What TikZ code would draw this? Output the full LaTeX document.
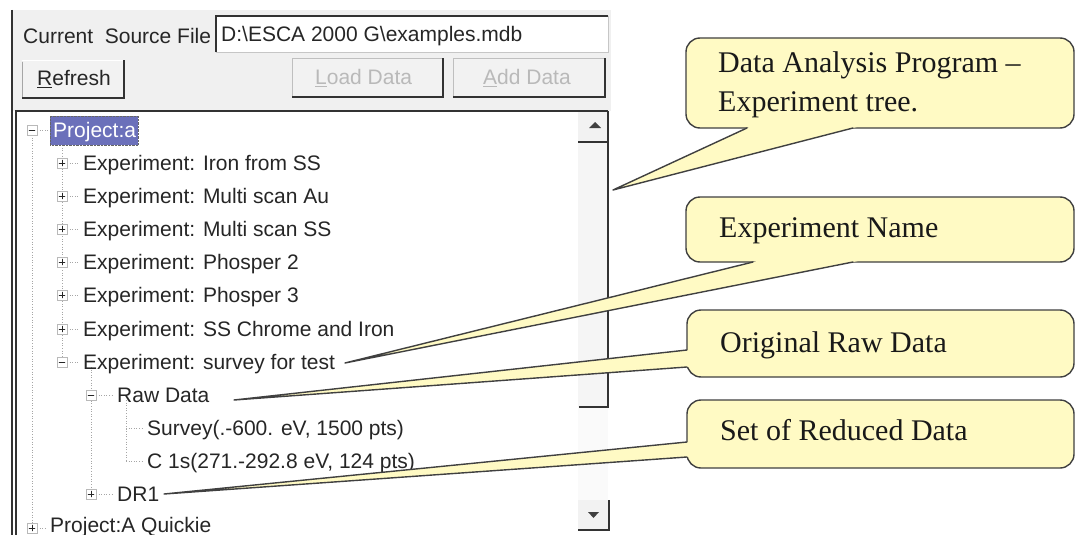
\documentclass[tikz,border=0pt]{standalone}
\usepackage{fontspec}
\setmainfont{Liberation Serif}
\newfontfamily\winfont{Liberation Sans}
\usetikzlibrary{calc}
\definecolor{paneB}{rgb}{0.94,0.94,0.94}
\definecolor{noteY}{rgb}{1.0,0.98,0.77}
\definecolor{selB}{rgb}{0.42,0.44,0.73}
\definecolor{inkD}{rgb}{0.15,0.15,0.15}
\newcommand{\minusbox}[2]{%
  \draw[gray!55,fill=white] (#1,#2) ++(-5,-5) rectangle ++(10,10);
  \draw[inkD] (#1,#2) ++(-3,0) -- ++(6,0);}
\newcommand{\plusbox}[2]{%
  \minusbox{#1}{#2}
  \draw[inkD] (#1,#2) ++(0,-3) -- ++(0,6);}

\begin{document}
\begin{tikzpicture}[x=1pt, y=-1pt, line cap=round,
  tree/.style={font=\winfont\fontsize{21}{24}\selectfont, text=inkD, inner sep=0pt, anchor=base west},
  note/.style={font=\fontsize{30}{36}\selectfont, text=black!90, inner sep=0pt, anchor=base west},
  callout/.style={fill=noteY, draw=black!75, line width=1.4pt, rounded corners=14pt},
  wedge/.style={draw=black!75, line width=1.4pt, line join=round},
  treeln/.style={gray!70, line width=0.9pt, dash pattern=on 1pt off 1.6pt, line cap=butt},
  edgeD/.style={black!80, line width=1.5pt, line cap=butt}]
\useasboundingbox (0,0) rectangle (1076,535);
\fill[white] (0,0) rectangle (1076,535);
% Dialogfeld oben
\fill[paneB] (12,10) rectangle (611,111);
\draw[edgeD, line width=1.2pt] (12,10) -- (12,535);
\node[tree] (cur) at (23,43.5) {Current\ \ Source File};
\fill[white] (216,16) rectangle (608,52);
\draw[gray!45] (216,52) -- (608,52) -- (608,16);
\draw[edgeD] (216,52) -- (216,16) -- (608,16);
\node[tree] (src) at (221,42) {D:\textbackslash ESCA 2000 G\textbackslash examples.mdb};
% Knoepfe
\fill[gray!10] (22,60) rectangle (124,98);
\draw[white] (22,60) -- (124,60);
\draw[gray!70] (22,98) -- (22,62);
\draw[edgeD] (22,98) -- (124,98) -- (124,60);
\node[tree] (refresh) at (37,85.5) {\underline{R}efresh};
\fill[gray!10] (292,58) rectangle (443,97);
\draw[gray!50] (292,97) -- (292,58) -- (443,58);
\draw[edgeD] (292,97) -- (443,97) -- (443,58);
\node[tree, text=gray!55] (load) at (315,84.5) {\underline{L}oad Data};
\fill[gray!10] (453,58) rectangle (605,97);
\draw[gray!50] (453,97) -- (453,58) -- (605,58);
\draw[edgeD] (453,97) -- (605,97) -- (605,58);
\node[tree, text=gray!55] (add) at (483,84.5) {\underline{A}dd Data};
% Baumfenster
\fill[white] (16,111) rectangle (608,535);
\draw[edgeD, line width=2pt] (15,111) -- (608,111);
\draw[edgeD, line width=1.2pt] (16,111) -- (16,535);
% Rollbalken
\fill[gray!10] (578,112) rectangle (607,142);
\fill[gray!8] (578,142) rectangle (607,407);
\fill[gray!4] (578,407) rectangle (608,500);
\fill[gray!10] (578,500) rectangle (608,530);
\draw[edgeD] (578,142) -- (607,142);
\draw[edgeD] (608,111) -- (608,407) -- (579,407);
\draw[edgeD] (578,530) -- (609,530) -- (609,500);
\fill[black!75] (589,128) -- (601,128) -- (595,122) -- cycle;
\fill[black!75] (588,512) -- (599,512) -- (593.5,518) -- cycle;
% Baumlinien
\draw[treeln] (32,135) -- (32,535);
\draw[treeln] (37,130) -- (49,130);
\draw[treeln] (62,140) -- (62,362);
\draw[treeln] (67,163) -- (80,163);
\draw[treeln] (67,196) -- (80,196);
\draw[treeln] (67,229) -- (80,229);
\draw[treeln] (67,262) -- (80,262);
\draw[treeln] (67,295) -- (80,295);
\draw[treeln] (67,329) -- (80,329);
\draw[treeln] (67,362) -- (80,362);
\draw[treeln] (91,367) -- (91,494);
\draw[treeln] (96,395) -- (114,395);
\draw[treeln] (96,494) -- (114,494);
\draw[treeln] (126,400) -- (126,461);
\draw[treeln] (126,428) -- (143,428);
\draw[treeln] (126,461) -- (143,461);
\draw[treeln] (37,528) -- (47,528);
% Symbole
\minusbox{32}{130}
\plusbox{62}{163}
\plusbox{62}{196}
\plusbox{62}{229}
\plusbox{62}{262}
\plusbox{62}{295}
\plusbox{62}{329}
\minusbox{62}{362}
\minusbox{91}{395}
\plusbox{91}{494}
\plusbox{32}{528}
% Eintraege
\fill[selB] (50,116) rectangle (138,145);
\draw[black!60, densely dotted, line cap=butt] (50,116) rectangle (138,145);
\node[tree, text=white] (proja) at (53,137.5) {Project:a};
\node[tree] (exp1) at (83,170.5) {Experiment: Iron from SS};
\node[tree] (exp2) at (83,203.5) {Experiment: Multi scan Au};
\node[tree] (exp3) at (83,236.5) {Experiment: Multi scan SS};
\node[tree] (exp4) at (83,269.5) {Experiment: Phosper 2};
\node[tree] (exp5) at (83,302.5) {Experiment: Phosper 3};
\node[tree] (exp6) at (83,336.5) {Experiment: SS Chrome and Iron};
\node[tree] (exp7) at (83,369.5) {Experiment: survey for test};
\node[tree] (raw) at (117,402.5) {Raw Data};
\node[tree] (surv) at (147,435.5) {Survey(.-600. eV, 1500 pts)};
\node[tree] (cone) at (147,468.5) {C 1s(271.-292.8 eV, 124 pts)};
\node[tree] (dr) at (117,501.5) {DR1};
\node[tree] (projb) at (50,532.5) {Project:A Quickie};
% Sprechblasen
\coordinate (tipA) at (613,190);
\coordinate (tipB) at (345,363);
\coordinate (tipC) at (234,400);
\coordinate (tipD) at (164,494);
\filldraw[callout] (686,38) rectangle (1074,128);
\fill[noteY] (tipA) -- ($(tipA)!1.05!(747,128)$) -- ($(tipA)!1.05!(853,128)$) -- cycle;
\draw[wedge] (747,128) -- (tipA) -- (853,128);
\node[note] (progA) at (718,73) {Data Analysis Program –};
\node[note] (progB) at (718,111) {Experiment tree.};
\filldraw[callout] (686,197) rectangle (1074,262);
\fill[noteY] (tipB) -- ($(tipB)!1.02!(753,262)$) -- ($(tipB)!1.02!(853,262)$) -- cycle;
\draw[wedge] (753,262) -- (tipB) -- (853,262);
\node[note] (expname) at (719,237) {Experiment Name};
\filldraw[callout] (687,310) rectangle (1074,377);
\fill[noteY] (tipC) -- ($(tipC)!1.012!(687,350)$) -- ($(tipC)!1.012!(687,367)$) -- cycle;
\draw[wedge] (687,350) -- (tipC) -- (687,367);
\node[note] (rawnote) at (720,352) {Original Raw Data};
\filldraw[callout] (687,400) rectangle (1074,468);
\fill[noteY] (tipD) -- ($(tipD)!1.01!(687,442)$) -- ($(tipD)!1.01!(687,457)$) -- cycle;
\draw[wedge] (687,442) -- (tipD) -- (687,457);
\node[note] (rednote) at (720,440) {Set of Reduced Data};
\end{tikzpicture}
\end{document}
